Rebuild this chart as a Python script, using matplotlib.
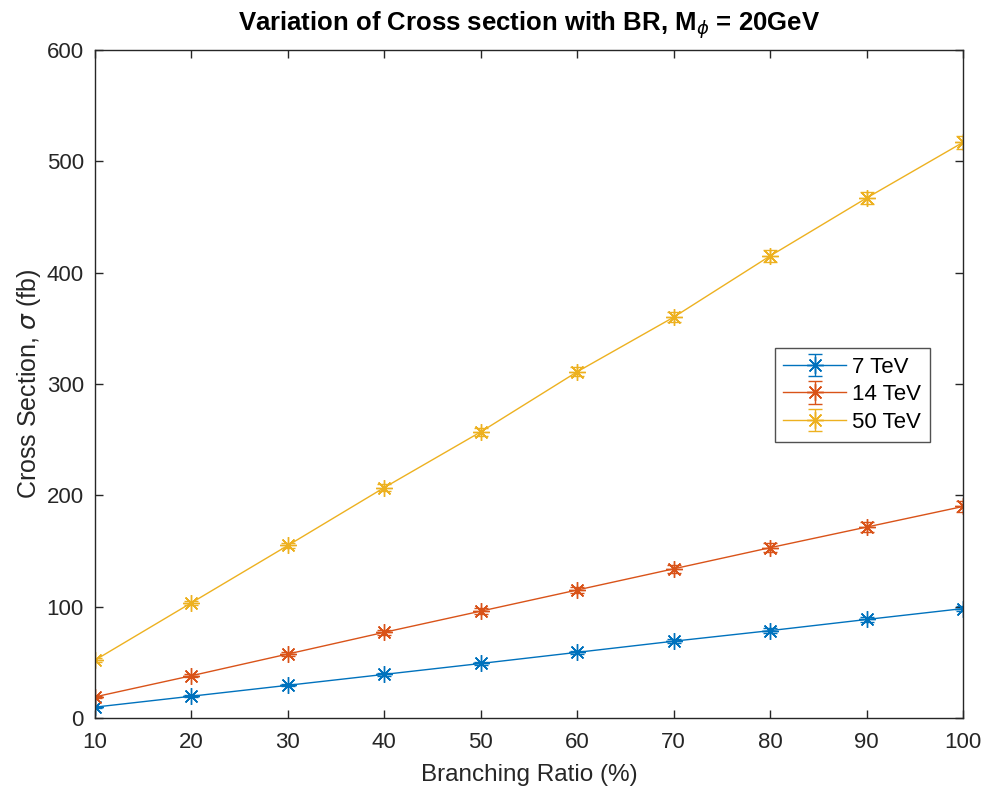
import numpy as np
import matplotlib.pyplot as plt

plt.rcParams['font.family'] = ['Liberation Sans', 'DejaVu Sans']
plt.rcParams['mathtext.fontset'] = 'dejavusans'

# Branching ratio (%) and cross sections (fb)
br = [10, 20, 30, 40, 50, 60, 70, 80, 90, 100]
xs_7 = [9.8, 19.6, 29.4, 39.2, 49.0, 59.0, 69.0, 78.5, 88.5, 98.3]
xs_14 = [19.0, 38.0, 57.5, 77.0, 96.0, 115.0, 134.0, 153.0, 171.5, 190.0]
xs_50 = [52.0, 103.5, 155.0, 207.0, 257.0, 311.0, 360.0, 415.0, 467.0, 517.0]
err_7 = [0.5, 0.8, 1.0, 1.2, 1.4, 1.6, 1.8, 2.0, 2.2, 2.4]
err_14 = [1.0, 1.4, 1.8, 2.2, 2.6, 3.0, 3.4, 3.8, 4.2, 4.6]
err_50 = [1.5, 2.0, 2.5, 3.0, 3.5, 4.0, 4.5, 5.0, 5.5, 6.0]
labels = ['7 TeV', '14 TeV', '50 TeV']
colors = ['#0072BD', '#D95319', '#EDB120']

fig = plt.figure(figsize=(10, 8.02), dpi=100)
ax = fig.add_axes([0.095, 0.1047, 0.868, 0.833])

for y, e, lab, c in zip([xs_7, xs_14, xs_50], [err_7, err_14, err_50], labels, colors):
    ax.errorbar(br, y, yerr=e, color=c, marker=(8, 2, 0), markersize=12,
                markeredgewidth=1.0, linewidth=1.0, capsize=5, elinewidth=1.0,
                label=lab)

ax.set_xlim(10, 100)
ax.set_ylim(0, 600)
ax.set_xticks(br)
ax.set_yticks(np.arange(0, 601, 100))
ax.tick_params(direction='in', top=True, right=True, labelsize=16,
               colors='#262626', length=6, width=1, pad=10)
ax.tick_params(axis='y', pad=8)
for s in ax.spines.values():
    s.set_color('#262626')
    s.set_linewidth(1.0)

ax.set_xlabel('Branching Ratio (%)', fontsize=17.5, color='#262626', labelpad=8)
ax.set_ylabel(r'Cross Section, $\sigma$ (fb)', fontsize=18, color='#262626')
ax.yaxis.set_label_coords(-0.06, 0.5)
ax.set_title(r'Variation of Cross section with BR, M$_{\phi}$ = 20GeV',
             fontsize=18.5, fontweight='bold', pad=14)

leg = ax.legend(loc='upper right', bbox_to_anchor=(0.975, 0.571), fontsize=16,
                frameon=True, fancybox=False, edgecolor='#262626',
                handlelength=2.8, borderpad=0.4, labelspacing=0.3,
                handletextpad=0.3)
leg.get_frame().set_linewidth(1.0)

fig.savefig('out.png', dpi=100)
